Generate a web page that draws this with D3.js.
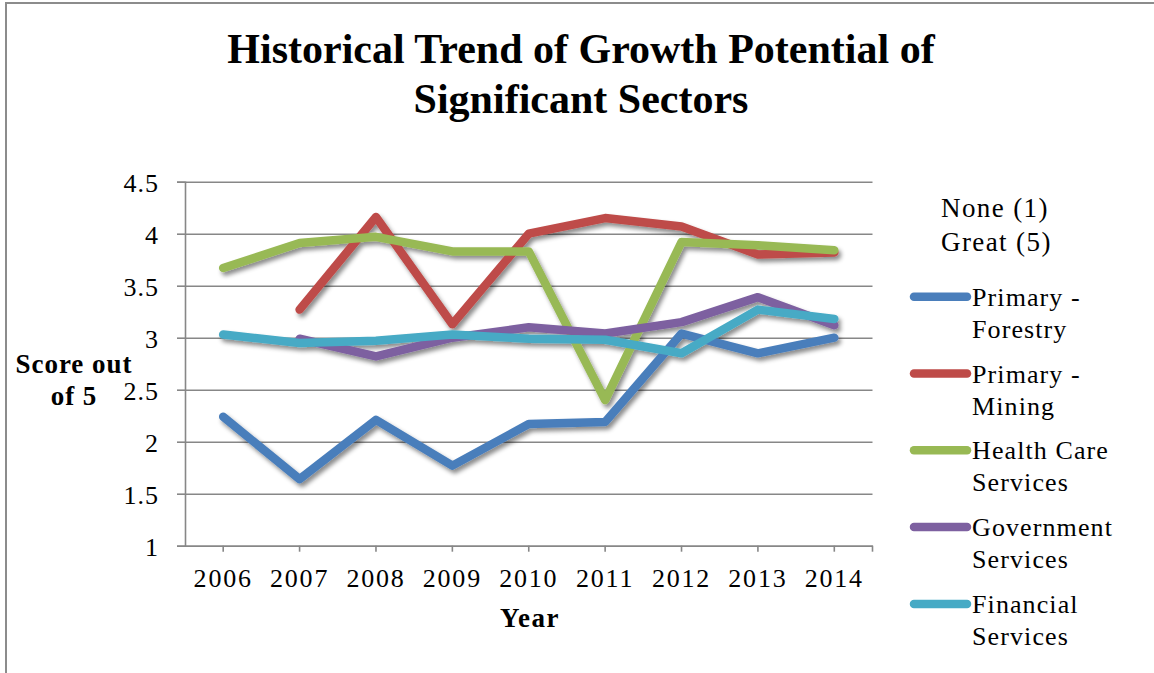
<!DOCTYPE html>
<html>
<head>
<meta charset="utf-8">
<script src="https://cdn.jsdelivr.net/npm/d3@7"></script>
<style>
  html, body { margin: 0; padding: 0; background: #fff; }
  svg { display: block; }
  text { font-family: "Liberation Serif", "Times New Roman", serif; fill: #000; }
</style>
</head>
<body>
<svg id="chart" width="1154" height="673"></svg>
<script>
// Categories and series values (score out of 5)
const years = ["2006", "2007", "2008", "2009", "2010", "2011", "2012", "2013", "2014"];
const forestry   = [2.24, 1.64, 2.21, 1.77, 2.17, 2.19, 3.04, 2.85, 3.00];
const mining     = [null, 3.27, 4.16, 3.13, 4.00, 4.15, 4.07, 3.80, 3.82];
const healthCare = [3.67, 3.91, 3.97, 3.83, 3.83, 2.40, 3.92, 3.89, 3.84];
const government = [null, 2.99, 2.82, 3.00, 3.10, 3.04, 3.15, 3.39, 3.12];
const financial  = [3.03, 2.95, 2.97, 3.03, 2.99, 2.98, 2.85, 3.27, 3.18];

const seriesNames = [["Primary -", "Forestry"], ["Primary -", "Mining"], ["Health Care", "Services"],
                     ["Government", "Services"], ["Financial", "Services"]];
const seriesColors = ["#4a7ebb", "#be4b48", "#98b954", "#7d60a0", "#46aac5"];
const yTicks = [1, 1.5, 2, 2.5, 3, 3.5, 4, 4.5];
const titleLines = ["Historical Trend of Growth Potential of", "Significant Sectors"];

const series = [forestry, mining, healthCare, government, financial].map((values, i) => ({
  name: seriesNames[i], color: seriesColors[i], values
}));

const svg = d3.select("#chart");

// Drop shadow for the thick series lines
const defs = svg.append("defs");
const shadow = defs.append("filter").attr("id", "shadow")
  .attr("x", "-10%").attr("y", "-10%").attr("width", "130%").attr("height", "130%");
shadow.append("feDropShadow").attr("dx", 2.5).attr("dy", 3.5).attr("stdDeviation", 2)
  .attr("flood-color", "#000").attr("flood-opacity", 0.45);

// Outer frame of the chart area
svg.append("rect").attr("x", 6).attr("y", 3).attr("width", 1300).attr("height", 1000)
  .attr("fill", "none").attr("stroke", "#8c8c8c").attr("stroke-width", 2);

// Title
svg.append("text").attr("text-anchor", "middle")
  .style("font-size", "42px").style("font-weight", "bold")
  .selectAll("tspan").data(titleLines).join("tspan")
  .attr("x", 581).attr("y", (d, i) => 63 + i * 50).text(d => d);

// Scales
const x = d3.scaleBand().domain(years).range([185, 872.5]);
const y = d3.scaleLinear().domain([1, 4.5]).range([545.7, 181.7]);
const [x0, x1] = x.range();

// Horizontal gridlines
svg.append("g").attr("transform", `translate(${x0},0)`)
  .call(d3.axisLeft(y).tickValues(yTicks).tickSize(-(x1 - x0)).tickFormat(""))
  .call(g => g.select(".domain").remove())
  .call(g => g.selectAll("line").attr("stroke", "#878787").attr("stroke-width", 1.6));

// Y axis
svg.append("g").attr("transform", `translate(${x0},0)`)
  .call(d3.axisLeft(y).tickValues(yTicks).tickSize(8).tickPadding(18).tickFormat(d3.format("")))
  .call(g => g.select(".domain").attr("stroke", "#878787").attr("stroke-width", 1.6))
  .call(g => g.selectAll("line").attr("stroke", "#878787").attr("stroke-width", 1.6))
  .call(g => g.selectAll("text").attr("font-family", null).style("font-size", "26px")
    .style("letter-spacing", "1px").attr("dy", "0.36em"));

// X axis
const xAxis = svg.append("g").attr("transform", `translate(0,${y(1)})`)
  .call(d3.axisBottom(x).tickSize(6).tickPadding(17).tickSizeOuter(0))
  .call(g => g.select(".domain").attr("stroke", "#878787").attr("stroke-width", 1.6))
  .call(g => g.selectAll("line").attr("stroke", "#878787").attr("stroke-width", 1.6))
  .call(g => g.selectAll("text").attr("font-family", null).style("font-size", "26px")
    .style("letter-spacing", "1.8px"));
xAxis.append("line").attr("x1", x1).attr("x2", x1).attr("y1", 0).attr("y2", 6)
  .attr("stroke", "#878787").attr("stroke-width", 1.6);

// Axis titles
svg.append("text").attr("text-anchor", "middle")
  .style("font-size", "27px").style("font-weight", "bold").style("letter-spacing", "1px")
  .selectAll("tspan").data(["Score out", "of 5"]).join("tspan")
  .attr("x", 74).attr("y", (d, i) => 373 + i * 32).text(d => d);
svg.append("text").attr("x", 530).attr("y", 627).attr("text-anchor", "middle")
  .style("font-size", "27px").style("font-weight", "bold").style("letter-spacing", "1.5px").text("Year");

// Series lines
const line = d3.line()
  .defined(d => d.v != null)
  .x(d => x(d.year) + x.bandwidth() / 2)
  .y(d => y(d.v));

svg.append("g").attr("filter", "url(#shadow)")
  .selectAll("path").data(series).join("path")
  .attr("d", s => line(s.values.map((v, i) => ({ year: years[i], v }))))
  .attr("fill", "none").attr("stroke", s => s.color)
  .attr("stroke-width", 8.5).attr("stroke-linecap", "round").attr("stroke-linejoin", "round");

// Legend
const legend = svg.append("g");
legend.append("text").style("font-size", "27px").style("letter-spacing", "1.4px")
  .selectAll("tspan").data(["None (1)", "Great (5)"]).join("tspan")
  .attr("x", 941).attr("y", (d, i) => 217 + i * 34).text(d => d);

const item = legend.selectAll("g.item").data(series).join("g").attr("class", "item")
  .attr("transform", (d, i) => `translate(0,${296.7 + i * 76.8})`);
item.append("line").attr("x1", 914).attr("x2", 967).attr("y1", 0).attr("y2", 0)
  .attr("stroke", d => d.color).attr("stroke-width", 8.5).attr("stroke-linecap", "round");
item.append("text").style("font-size", "26px").style("letter-spacing", "1.1px")
  .selectAll("tspan").data(d => d.name).join("tspan")
  .attr("x", 972).attr("y", (d, i) => 9 + i * 32).text(d => d);
</script>
</body>
</html>
